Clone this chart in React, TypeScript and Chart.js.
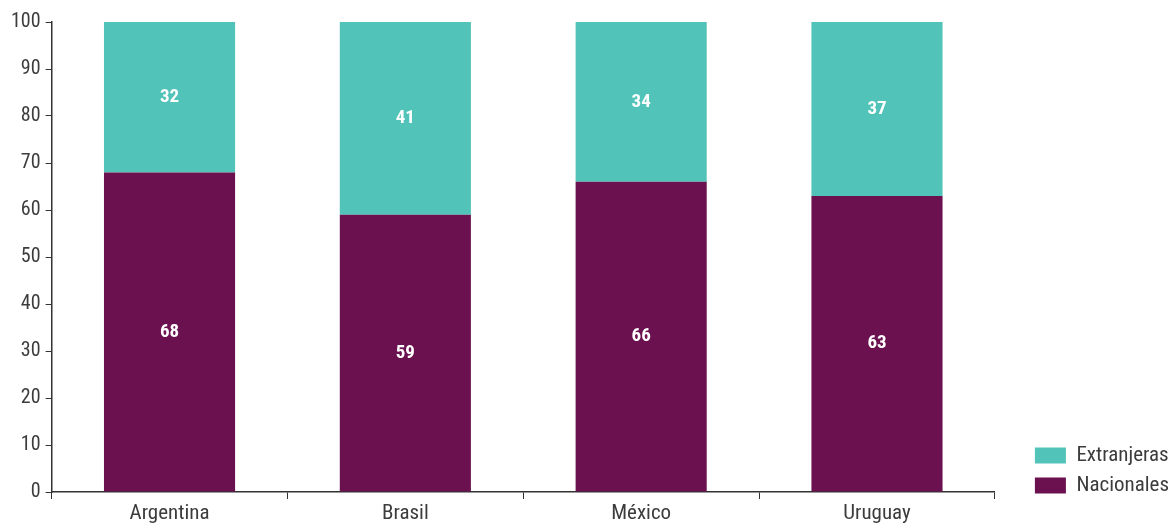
import React, { useEffect, useRef } from "react";
import { Chart, registerables } from "chart.js";

Chart.register(...registerables);

const categories = ["Argentina", "Brasil", "México", "Uruguay"];
const nacionales = [68, 59, 66, 63];
const extranjeras = [32, 41, 34, 37];
const yTicks = [0, 10, 20, 30, 40, 50, 60, 70, 80, 90, 100];

const FONT = "'Liberation Sans Narrow', 'Roboto Condensed', 'Roboto', sans-serif";
const AXIS_COLOR = "#333333";
const TEXT_COLOR = "#3c3c3c";

const valueLabels = {
  id: "valueLabels",
  afterDatasetsDraw(chart: any) {
    const ctx = chart.ctx;
    ctx.save();
    ctx.fillStyle = "#ffffff";
    ctx.font = `bold 19px ${FONT}`;
    ctx.textAlign = "center";
    ctx.textBaseline = "middle";
    chart.data.datasets.forEach((ds: any, di: number) => {
      const meta = chart.getDatasetMeta(di);
      meta.data.forEach((el: any, i: number) => {
        const v = ds.data[i];
        const y = (el.y + el.base) / 2;
        ctx.fillText(String(v), el.x, y);
      });
    });
    ctx.restore();
  },
};

// Places the legend block so that its last row sits just above the x-axis line,
// and nudges it right as in the reference.
const legendPlacement = {
  id: "legendPlacement",
  afterLayout(chart: any) {
    const lg = chart.legend;
    if (!lg) return;
    lg.bottom = chart.chartArea.bottom + 13;
    lg.left += 10;
    lg.right += 10;
  },
};

export default function App() {
  const ref = useRef<HTMLCanvasElement>(null);
  useEffect(() => {
    if (!ref.current) return;
    const chart = new Chart(ref.current, {
      type: "bar",
      data: {
        labels: categories,
        datasets: [
          {
            label: "Nacionales",
            data: nacionales,
            backgroundColor: "#6b1150",
            barPercentage: 0.556,
            categoryPercentage: 1,
          },
          {
            label: "Extranjeras",
            data: extranjeras,
            backgroundColor: "#52c3b8",
            barPercentage: 0.556,
            categoryPercentage: 1,
          },
        ],
      },
      options: {
        animation: false,
        responsive: false,
        maintainAspectRatio: false,
        layout: { padding: { top: 22, left: 6, right: 0, bottom: 0 } },
        plugins: {
          tooltip: { enabled: false },
          legend: {
            position: "right",
            align: "end",
            reverse: true,
            labels: {
              boxWidth: 31,
              boxHeight: 16,
              padding: 9,
              color: TEXT_COLOR,
              font: { family: FONT, size: 21 },
            },
          },
        },
        scales: {
          x: {
            stacked: true,
            grid: {
              offset: true,
              drawOnChartArea: false,
              drawTicks: true,
              tickLength: 7,
              color: AXIS_COLOR,
              tickColor: AXIS_COLOR,
            },
            border: { display: true, color: AXIS_COLOR, width: 1.5 },
            ticks: {
              color: TEXT_COLOR,
              font: { family: FONT, size: 21, lineHeight: 0.72 },
              padding: 7,
              maxRotation: 0,
            },
            afterFit: (scale: any) => {
              scale.height = 31;
            },
          },
          y: {
            stacked: true,
            min: 0,
            max: 100,
            afterBuildTicks: (scale: any) => {
              scale.ticks = yTicks.map((v) => ({ value: v }));
            },
            grid: {
              drawOnChartArea: false,
              drawTicks: true,
              tickLength: 6,
              color: AXIS_COLOR,
              tickColor: AXIS_COLOR,
            },
            border: { display: true, color: AXIS_COLOR, width: 1.5 },
            ticks: {
              color: TEXT_COLOR,
              font: { family: FONT, size: 20 },
              padding: 5,
            },
          },
          gap: {
            position: "right",
            display: true,
            grid: { display: false, drawTicks: false },
            border: { display: false },
            ticks: { display: false },
            afterFit: (scale: any) => {
              scale.width = 21;
            },
          },
        },
      },
      plugins: [valueLabels, legendPlacement],
    } as any);
    return () => chart.destroy();
  }, []);
  return (
    <div style={{ position: "absolute", left: 0, top: 0, width: 1169, height: 523 }}>
      <canvas ref={ref} width={1169} height={523} style={{ width: 1169, height: 523 }} />
    </div>
  );
}
